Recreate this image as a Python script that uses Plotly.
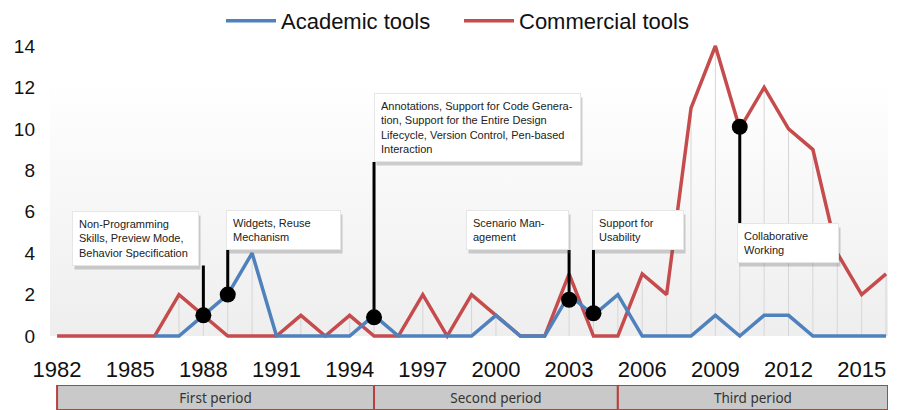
import plotly.graph_objects as go

# ---------------- data ----------------
years = list(range(1982, 2017))
academic = [None, None, None, None,
            0, 0, 1, 2, 4, 0, 0, 0, 0, 1, 0, 0, 0, 0, 1, 0, 0,
            2, 1, 2, 0, 0, 0, 1, 0, 1, 1, 0, 0, 0, 0]
commercial = [0, 0, 0, 0,
              0, 2, 1, 0, 0, 0, 1, 0, 1, 0, 0, 2, 0, 2, 1, 0, 0,
              3, 0, 0, 3, 2, 11, 14, 10, 12, 10, 9, 4, 2, 3]

feature_years = [1988, 1989, 1995, 2003, 2004, 2010]
feature_values = [1, 2, 0.9, 1.75, 1.1, 10.1]
feature_labels = [
    "Non-Programming<br>Skills, Preview Mode,<br>Behavior Specification",
    "Widgets, Reuse<br>Mechanism",
    "Annotations, Support for Code Genera-<br>tion, Support for the Entire Design<br>Lifecycle, Version Control, Pen-based<br>Interaction",
    "Scenario Man-<br>agement",
    "Support for<br>Usability",
    "Collaborative<br>Working",
]

period_names = ["First period", "Second period", "Third period"]
period_start = [1982, 1995, 2005]
period_end = [1995, 2005, 2016.08]

x_ticks = list(range(1982, 2016, 3))
y_ticks = list(range(0, 15, 2))

# ---------------- layout helpers (positions / styles) ----------------
label_stem_top = [3.4, 4.15, 8.4, 4.15, 4.15, 5.45]
label_side = ["right", "left", "left", "right", "left", "left"]
label_vanchor = ["bottom", "bottom", "bottom", "bottom", "bottom", "top"]
label_width = [113, 101, 193, 89, 78, 88]
label_xshift = [-4, -2, 0, 0, -1, -3]

BLUE = "#4F81BD"
RED = "#C64B4C"
FONT = "Liberation Sans, Arial, sans-serif"

fig = go.Figure()

# subtle background gradient
fig.add_trace(go.Scatter(
    x=[1981.71, 2016.08], y=[12.4, 12.4], mode="lines", line=dict(width=0),
    fill="tozeroy",
    fillgradient=dict(type="vertical",
                      colorscale=[[0, "#eeeeee"], [1, "#ffffff"]]),
    hoverinfo="skip", showlegend=False))

# drop lines at every year
dx, dy = [], []
for yr, a, c in zip(years, academic, commercial):
    top = max(a or 0, c or 0)
    if top > 0:
        dx += [yr, yr, None]
        dy += [0, top, None]
fig.add_trace(go.Scatter(x=dx, y=dy, mode="lines",
                         line=dict(color="#d6d6d6", width=1),
                         hoverinfo="skip", showlegend=False))

fig.add_trace(go.Scatter(x=years, y=commercial, mode="lines",
                         name="Commercial tools",
                         line=dict(color=RED, width=3.5)))
fig.add_trace(go.Scatter(x=years, y=academic, mode="lines",
                         name="Academic tools",
                         line=dict(color=BLUE, width=3.5)))

# stems
sx, sy = [], []
for yr, v, t in zip(feature_years, feature_values, label_stem_top):
    sx += [yr, yr, None]
    sy += [v, t, None]
fig.add_trace(go.Scatter(x=sx, y=sy, mode="lines",
                         line=dict(color="black", width=3),
                         hoverinfo="skip", showlegend=False))
fig.add_trace(go.Scatter(x=feature_years, y=feature_values, mode="markers",
                         marker=dict(color="black", size=16),
                         hoverinfo="skip", showlegend=False))

# period bars
fig.add_trace(go.Bar(
    y=[0, 0, 0], x=[e - s for s, e in zip(period_start, period_end)],
    base=period_start, orientation="h", width=1,
    text=period_names, textposition="inside", insidetextanchor="middle",
    textangle=0, constraintext="none",
    textfont=dict(family="Noto Sans, sans-serif", size=13.5, color="#333333"),
    marker=dict(color="#c9c9c9", line=dict(color="#b8403e", width=2)),
    xaxis="x2", yaxis="y2", showlegend=False, hoverinfo="skip"))

annotations = []
for i, (yr, lbl) in enumerate(zip(feature_years, feature_labels)):
    common = dict(x=yr, y=label_stem_top[i], xref="x", yref="y",
                  xanchor=label_side[i], yanchor=label_vanchor[i],
                  align="left", showarrow=False,
                  width=label_width[i], borderpad=6)
    n_lines = lbl.count("<br>") + 1
    shadow = dict(common)
    shadow.update(text="<br>".join(["&nbsp;"] * n_lines),
                  xshift=label_xshift[i] + 2, yshift=-4,
                  bgcolor="rgba(90,90,90,0.28)",
                  font=dict(family=FONT, size=11, color="rgba(0,0,0,0)"))
    annotations.append(shadow)
    box = dict(common)
    box.update(text=lbl, xshift=label_xshift[i], bgcolor="white",
               bordercolor="#e6e6e6", borderwidth=1,
               font=dict(family=FONT, size=11, color="#222222"))
    annotations.append(box)

fig.update_layout(
    width=897, height=410,
    margin=dict(l=50, r=9, t=38, b=0, autoexpand=False),
    paper_bgcolor="white", plot_bgcolor="white",
    font=dict(family=FONT, color="#1a1a1a"),
    legend=dict(orientation="h", xref="container", yref="container",
                x=0.5117, xanchor="center", y=1.0, yanchor="top",
                font=dict(family=FONT, size=22, color="#111111"),
                traceorder="reversed", itemwidth=50, entrywidth=173,
                bgcolor="rgba(0,0,0,0)"),
    xaxis=dict(range=[1981.71, 2016.08], tickmode="array", tickvals=x_ticks,
               ticktext=[str(t) for t in x_ticks], showgrid=False,
               zeroline=False, showline=False, ticks="",
               tickfont=dict(family=FONT, size=22, color="#111111"),
               ticklabelstandoff=10, anchor="y"),
    yaxis=dict(range=[-0.40, 14.386], tickmode="array", tickvals=y_ticks,
               showgrid=False, zeroline=False, showline=False, ticks="",
               tickfont=dict(family=FONT, size=19, color="#111111"),
               ticklabelstandoff=14, domain=[0.1766, 1]),
    xaxis2=dict(matches="x", anchor="y2", visible=False),
    yaxis2=dict(range=[-0.5, 0.5], domain=[0, 0.0672], visible=False),
    annotations=annotations,
)

fig.write_html("out.html", config={"displayModeBar": False},
               post_script="document.body.style.margin='0';")
